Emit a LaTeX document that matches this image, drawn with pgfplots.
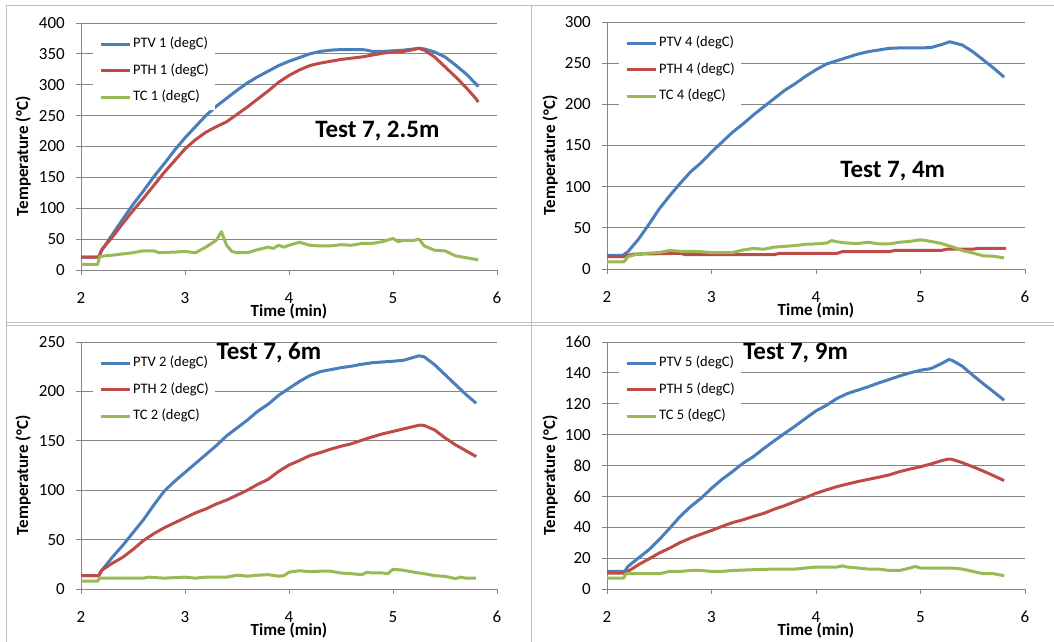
\documentclass[border=0pt]{standalone}
\usepackage{pgfplots}
\pgfplotsset{compat=1.18}
\usepackage{fontspec}
\setmainfont{Carlito}

\definecolor{ptv}{HTML}{4A7EBB}
\definecolor{pth}{HTML}{BE4B48}
\definecolor{tc}{HTML}{98B954}
\definecolor{axgray}{HTML}{868686}
\definecolor{framegray}{HTML}{BFBFBF}

\newcommand{\tickfont}{\fontsize{17}{20}\selectfont}
\tikzset{paneltitle/.style={anchor=west, font=\bfseries\fontsize{25}{30}\selectfont}}

\pgfplotsset{
  panel/.style={
    scale only axis, height=247pt,
    xmin=2, xmax=6, xtick={2,3,4,5,6}, ymin=0,
    axis lines*=left,
    axis line style={axgray, line width=0.9pt},
    tick style={axgray, line width=0.9pt},
    major tick length=5pt, tick align=outside,
    ymajorgrids, major grid style={axgray, line width=0.9pt},
    /pgf/number format/assume math mode=true,
    tick label style={font=\tickfont, inner sep=0pt},
    yticklabel={\tickfont\pgfmathprintnumber{\tick}\kern11pt},
    xticklabel={\tickfont\pgfmathprintnumber{\tick}},
    xticklabel style={yshift=-17pt},
    label style={font=\bfseries\fontsize{17}{20}\selectfont},
    xlabel={Time (min)}, ylabel={Temperature (°C)},
    xlabel style={at={(axis description cs:0.5,-0.166)}, anchor=center},
    legend cell align=left,
    legend style={at={(rel axis cs:0,1)}, anchor=north west,
      xshift=12pt, yshift=-8.5pt, draw=none, fill=white, inner sep=6pt,
      font=\fontsize{14.5}{17}\selectfont, row sep=13.5pt, column sep=2pt,
      nodes={inner sep=0pt, text height=10pt, text depth=3pt}},
    legend image code/.code={\draw[#1, line width=3pt] (0pt,0pt) -- (29pt,0pt);},
    every axis plot/.append style={line width=3pt, line join=round},
  },
}

\begin{document}
\begin{tikzpicture}
\path[use as bounding box] (0,0) rectangle (1054pt,642pt);

% ---- 2.5 m ----
\begin{axis}[panel, width=416pt, at={(81pt,372pt)}, anchor=south west,
  ymax=400, ytick={0,50,...,400},
  ylabel style={at={(axis description cs:-0.139,0.46)}, anchor=center}]
\addplot[ptv] coordinates {(2.0,21) (2.17,21) (2.2,32) (2.3,57) (2.4,82) (2.5,106) (2.6,128) (2.7,151) (2.8,172) (2.9,194) (3.0,214) (3.1,232) (3.2,250) (3.3,265) (3.4,278) (3.5,291) (3.6,303) (3.7,313) (3.8,322) (3.9,331) (4.0,338) (4.1,344) (4.2,350) (4.3,354) (4.4,356) (4.5,357) (4.6,357) (4.7,357) (4.75,356) (4.8,354) (4.9,354) (5.0,355) (5.1,356) (5.2,358) (5.25,359) (5.3,358) (5.4,353) (5.5,345) (5.6,332) (5.7,318) (5.8,301) (5.82,297)};
\addlegendentry{PTV 1 (degC)}
\addplot[pth] coordinates {(2.0,21) (2.17,21) (2.2,33) (2.3,53) (2.4,75) (2.5,96) (2.6,116) (2.7,137) (2.8,158) (2.9,177) (3.0,196) (3.1,211) (3.2,223) (3.3,232) (3.4,240) (3.5,252) (3.6,264) (3.7,277) (3.8,290) (3.9,304) (4.0,315) (4.1,324) (4.2,331) (4.3,335) (4.4,338) (4.5,341) (4.6,343) (4.7,345) (4.8,348) (4.9,351) (5.0,353) (5.1,354) (5.2,357) (5.25,359) (5.3,356) (5.4,345) (5.5,329) (5.6,313) (5.7,296) (5.8,277) (5.82,272)};
\addlegendentry{PTH 1 (degC)}
\addplot[tc] coordinates {(2.0,9) (2.16,9) (2.18,22) (2.3,24) (2.4,26) (2.5,28) (2.6,31) (2.7,31) (2.75,28) (2.9,29) (3.0,30) (3.1,28) (3.2,37) (3.3,48) (3.35,62) (3.4,40) (3.45,30) (3.5,28) (3.6,28) (3.7,33) (3.8,37) (3.85,35) (3.9,40) (3.95,37) (4.0,40) (4.1,45) (4.2,40) (4.3,39) (4.4,39) (4.5,41) (4.6,40) (4.7,43) (4.8,43) (4.9,46) (5.0,51) (5.05,46) (5.1,48) (5.2,48) (5.25,50) (5.3,39) (5.4,32) (5.5,31) (5.6,23) (5.7,20) (5.8,17) (5.82,16)};
\addlegendentry{TC 1 (degC)}
\node[paneltitle] at (axis cs:4.22,225) {Test 7, 2.5m};
\end{axis}

% ---- 4 m ----
\begin{axis}[panel, width=418pt, at={(607pt,373pt)}, anchor=south west,
  ymax=300, ytick={0,50,...,300},
  ylabel style={at={(axis description cs:-0.136,0.46)}, anchor=center}]
\addplot[ptv] coordinates {(2.0,16.5) (2.15,16.5) (2.2,21) (2.3,36) (2.4,54) (2.5,73) (2.6,89) (2.7,104) (2.8,118) (2.9,129) (3.0,142) (3.1,154) (3.2,166) (3.3,176) (3.4,187) (3.5,197) (3.6,207) (3.7,217) (3.8,225) (3.9,234) (4.0,242) (4.1,249) (4.2,253) (4.3,257) (4.4,261) (4.5,264) (4.6,266) (4.7,268) (4.8,268.5) (4.9,268.5) (5.0,268.5) (5.1,269) (5.2,272.5) (5.28,276) (5.4,272) (5.5,264) (5.6,254) (5.7,244) (5.8,233)};
\addlegendentry{PTV 4 (degC)}
\addplot[pth] coordinates {(2.0,15) (2.15,15) (2.25,18) (2.7,19) (2.75,17.5) (3.6,17.5) (3.65,19) (4.2,19) (4.25,21) (4.7,21) (4.75,22.5) (5.2,22.5) (5.25,24) (5.5,24) (5.55,25) (5.82,25)};
\addlegendentry{PTH 4 (degC)}
\addplot[tc] coordinates {(2.0,8.5) (2.16,8.5) (2.2,15) (2.3,18.5) (2.5,20) (2.6,22.5) (2.7,21.5) (2.8,21.5) (2.9,21) (3.0,20) (3.2,20) (3.3,23) (3.4,25) (3.5,24) (3.6,26.5) (3.7,27.5) (3.8,28.5) (3.9,30) (4.0,30.5) (4.1,31.5) (4.15,34.5) (4.2,33) (4.3,31.5) (4.4,31) (4.5,32.5) (4.6,30.5) (4.7,30.5) (4.8,32.5) (4.9,33.5) (5.0,35.5) (5.1,33.5) (5.2,31) (5.3,27) (5.4,22.5) (5.5,19.5) (5.6,16) (5.7,15.5) (5.8,13.5)};
\addlegendentry{TC 4 (degC)}
\node[paneltitle] at (axis cs:4.20,119) {Test 7, 4m};
\end{axis}

% ---- 6 m ----
\begin{axis}[panel, width=416pt, at={(81pt,53pt)}, anchor=south west,
  ymax=250, ytick={0,50,...,250},
  ylabel style={at={(axis description cs:-0.139,0.46)}, anchor=center}]
\addplot[ptv] coordinates {(2.0,13.5) (2.17,13.5) (2.2,19) (2.3,32) (2.4,44) (2.5,57) (2.6,70) (2.7,85) (2.8,99) (2.9,109) (3.0,118) (3.1,127) (3.2,136) (3.3,145) (3.4,155) (3.5,163) (3.6,171) (3.7,180) (3.8,187) (3.9,196) (4.0,203) (4.1,210) (4.2,216) (4.3,220) (4.4,222) (4.5,224) (4.6,225.5) (4.7,227.5) (4.8,229) (4.9,229.8) (5.0,230.5) (5.1,231.5) (5.2,234.5) (5.25,236) (5.3,235) (5.4,227) (5.5,217) (5.6,207) (5.7,197) (5.8,188)};
\addlegendentry{PTV 2 (degC)}
\addplot[pth] coordinates {(2.0,13.5) (2.17,13.5) (2.2,19) (2.3,26) (2.4,32) (2.5,40) (2.6,49) (2.7,56) (2.8,62) (2.9,67) (3.0,72) (3.1,77) (3.2,81) (3.3,86) (3.4,90) (3.5,95) (3.6,100) (3.7,106) (3.8,111) (3.9,119) (4.0,125.5) (4.1,130) (4.2,135) (4.3,138) (4.4,141.5) (4.5,144.5) (4.6,147) (4.7,150.5) (4.8,154) (4.9,157) (5.0,159.5) (5.1,162) (5.2,164.5) (5.26,166) (5.3,165.5) (5.4,161) (5.5,153) (5.6,146) (5.7,140) (5.8,134)};
\addlegendentry{PTH 2 (degC)}
\addplot[tc] coordinates {(2.0,8) (2.16,8) (2.18,11) (2.6,11) (2.65,12) (2.8,11) (3.0,12) (3.1,11) (3.2,12) (3.4,12) (3.5,14) (3.6,13) (3.7,14) (3.8,14.5) (3.9,13) (3.95,13.5) (4.0,17) (4.1,18.5) (4.2,17.5) (4.3,18) (4.4,18) (4.5,16.2) (4.6,15.5) (4.7,14.5) (4.75,17) (4.8,16.2) (4.9,16.2) (4.95,15.5) (5.0,20) (5.1,19) (5.2,17) (5.3,15.5) (5.4,13.5) (5.5,12.8) (5.6,10.5) (5.65,12) (5.7,11) (5.8,11)};
\addlegendentry{TC 2 (degC)}
\node[paneltitle] at (axis cs:3.27,239) {Test 7, 6m};
\end{axis}

% ---- 9 m ----
\begin{axis}[panel, width=418pt, at={(607pt,53pt)}, anchor=south west,
  ymax=160, ytick={0,20,...,160},
  ylabel style={at={(axis description cs:-0.136,0.46)}, anchor=center}]
\addplot[ptv] coordinates {(2.0,11.4) (2.17,11.4) (2.2,14.6) (2.3,20) (2.4,25.4) (2.5,32) (2.6,39.4) (2.7,47) (2.8,53.4) (2.9,58.8) (3.0,65.2) (3.1,71) (3.2,76) (3.3,81.4) (3.4,85.7) (3.5,91) (3.6,96) (3.7,100.8) (3.8,105.5) (3.9,110.5) (4.0,115.4) (4.1,119) (4.2,123.4) (4.3,126.6) (4.4,128.8) (4.5,131) (4.6,133.5) (4.7,135.7) (4.8,138) (4.9,140) (5.0,141.7) (5.1,142.8) (5.2,146) (5.27,148.6) (5.3,148.2) (5.4,144.3) (5.5,138.5) (5.6,133) (5.7,127.7) (5.8,122.3)};
\addlegendentry{PTV 5 (degC)}
\addplot[pth] coordinates {(2.0,10.3) (2.17,10.3) (2.2,11.4) (2.3,15.7) (2.4,19.4) (2.5,23.3) (2.6,26.5) (2.7,30.1) (2.8,33) (2.9,35.5) (3.0,37.9) (3.1,40.5) (3.2,43) (3.3,44.8) (3.4,47) (3.5,49) (3.6,51.7) (3.7,54) (3.8,56.6) (3.9,59.2) (4.0,62) (4.1,64.2) (4.2,66.3) (4.3,68) (4.4,69.6) (4.5,71) (4.6,72.4) (4.7,73.9) (4.8,76) (4.9,77.7) (5.0,79.2) (5.1,81) (5.2,83.1) (5.27,84.2) (5.3,84) (5.4,81.8) (5.5,79.2) (5.6,76.4) (5.7,73.4) (5.8,70.2)};
\addlegendentry{PTH 5 (degC)}
\addplot[tc] coordinates {(2.0,7.1) (2.16,7.1) (2.18,9.9) (2.5,9.9) (2.6,11.4) (2.7,11.4) (2.8,12) (2.9,12) (3.0,11.4) (3.1,11.4) (3.2,12) (3.4,12.5) (3.6,12.9) (3.8,12.9) (3.9,13.6) (4.0,14.2) (4.2,14.2) (4.25,15) (4.3,14.2) (4.4,13.6) (4.5,12.9) (4.6,12.9) (4.7,12) (4.8,12) (4.9,13.6) (4.95,14.6) (5.0,13.6) (5.3,13.6) (5.4,12.9) (5.5,11.4) (5.6,9.9) (5.7,9.9) (5.8,8.6)};
\addlegendentry{TC 5 (degC)}
\node[paneltitle] at (axis cs:3.27,153) {Test 7, 9m};
\end{axis}

% panel frames
\draw[framegray, line width=1pt] (6pt,0pt) -- (6pt,636pt) -- (1054pt,636pt);
\draw[framegray, line width=1pt] (531.5pt,0pt) -- (531.5pt,636pt);
\draw[framegray, line width=1pt] (6pt,319.7pt) -- (1054pt,319.7pt);
\draw[framegray, line width=1pt] (6pt,316pt) -- (1054pt,316pt);
\end{tikzpicture}
\end{document}
